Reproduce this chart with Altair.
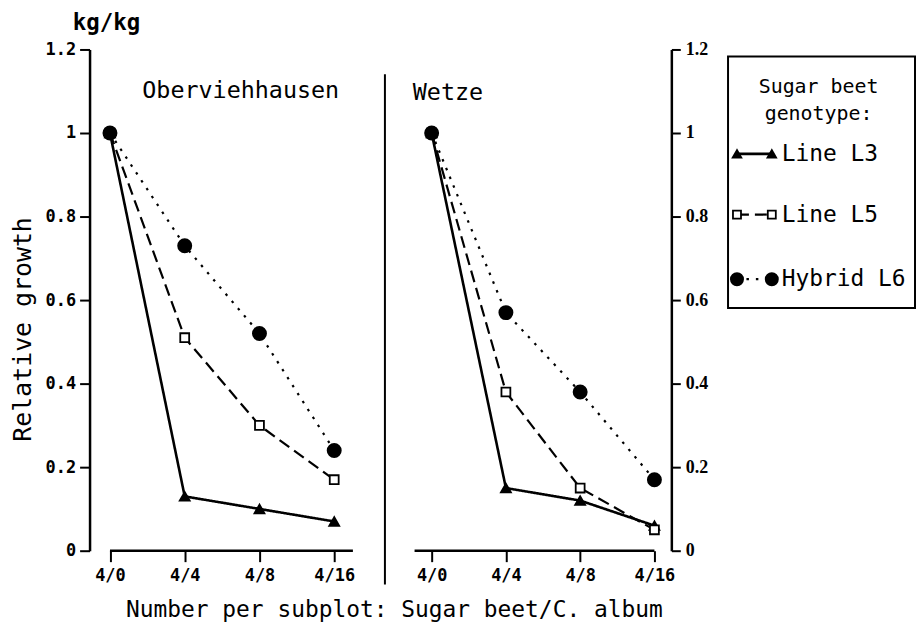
import json
import altair as alt
import pandas as pd

# ---------------- data ----------------
categories = ["4/0", "4/4", "4/8", "4/16"]
series_names = ["Line L3", "Line L5", "Hybrid L6"]
panel_names = ["Oberviehhausen", "Wetze"]

oberv_l3 = [1.00, 0.13, 0.10, 0.07]
oberv_l5 = [1.00, 0.51, 0.30, 0.17]
oberv_l6 = [1.00, 0.73, 0.52, 0.24]

wetze_l3 = [1.00, 0.15, 0.12, 0.06]
wetze_l5 = [1.00, 0.38, 0.15, 0.05]
wetze_l6 = [1.00, 0.57, 0.38, 0.17]

y_ticks = [0, 0.2, 0.4, 0.6, 0.8, 1.0, 1.2]
legend_title = ["Sugar beet", "genotype:"]
x_title = "Number per subplot: Sugar beet/C. album"
y_title = "Relative growth"
unit_label = "kg/kg"


def frame(values_by_series):
    rows = []
    for s, vals in zip(series_names, values_by_series):
        for i, (c, v) in enumerate(zip(categories, vals)):
            rows.append({"series": s, "pos": i, "cat": c, "value": v})
    return pd.DataFrame(rows)


df_left = frame([oberv_l3, oberv_l5, oberv_l6])
df_right = frame([wetze_l3, wetze_l5, wetze_l6])

# ---------------- styling ----------------
W, H = 585, 504
MONO = "DejaVu Sans Mono"
SERIF = "Liberation Serif"

dashes = [[1, 0], [12, 6], [2.5, 7]]
widths = [2.6, 2.2, 2.2]
shapes = ["triangle-up", "square", "circle"]
fills = ["black", "white", "black"]
sizes = [100, 80, 175]
legend_sizes = [75, 65, 150]

label_expr = json.dumps(categories) + "[datum.value]"
y_scale = alt.Scale(domain=[0, 1.2], nice=False, zero=False)

one = pd.DataFrame({"k": [0]})


def x_axis(title=None, title_x=None):
    kw = dict(
        orient="bottom", values=[0, 1, 2, 3], labelExpr=label_expr, domain=False,
        grid=False, tickSize=11, tickWidth=2, tickColor="black",
        labelFont=MONO, labelFontWeight="bold", labelFontSize=17, labelColor="black",
        labelPadding=6,
    )
    if title is not None:
        kw.update(title=title, titleFont=MONO, titleFontSize=23, titleFontWeight="normal",
                  titleColor="black", titlePadding=15, titleX=title_x, titleAlign="center")
    else:
        kw.update(title=None)
    return alt.Axis(**kw)


def y_axis(orient):
    kw = dict(
        orient=orient, values=y_ticks, format="~g", grid=False,
        domainWidth=2.5, domainColor="black", tickSize=10 if orient == "left" else 9,
        tickWidth=2, tickColor="black", labelColor="black",
    )
    if orient == "left":
        kw.update(labelFont=MONO, labelFontWeight="bold", labelFontSize=17, labelPadding=4,
                  title=y_title, titleFont=MONO, titleFontSize=25, titleFontWeight="normal",
                  titleColor="black", titlePadding=10, titleY=281)
    else:
        kw.update(labelFont=SERIF, labelFontWeight="bold", labelFontSize=18, labelPadding=5,
                  title=None)
    return alt.Axis(**kw)


def panel(df, x_domain, xax, yax, name, name_x, name_y, axis_from, axis_to, extras):
    xs = alt.Scale(domain=x_domain, nice=False, zero=False)
    X = alt.X("pos:Q", scale=xs, axis=xax)
    Y = alt.Y("value:Q", scale=y_scale, axis=yax)
    layers = []
    for s, d, w in zip(series_names, dashes, widths):
        layers.append(
            alt.Chart(df).transform_filter(alt.datum.series == s)
            .mark_line(color="black", strokeDash=d, strokeWidth=w)
            .encode(x=X, y=Y)
        )
    for s, sh, f, sz in zip(series_names, shapes, fills, sizes):
        layers.append(
            alt.Chart(df).transform_filter(alt.datum.series == s)
            .mark_point(shape=sh, fill=f, filled=True, stroke="black", strokeWidth=1.8,
                        size=sz, opacity=1)
            .encode(x=X, y=Y)
        )
    # x axis base line
    layers.append(
        alt.Chart(one).mark_rule(color="black", strokeWidth=2.5)
        .encode(x=alt.X(datum=axis_from, scale=xs, axis=xax),
                x2=alt.X2(datum=axis_to), y=alt.value(H))
    )
    layers.append(
        alt.Chart(pd.DataFrame({"t": [name]}))
        .mark_text(align="left", baseline="middle", font=MONO, fontSize=23.5, color="black")
        .encode(x=alt.value(name_x), y=alt.value(name_y), text="t:N")
    )
    layers.extend(extras)
    return alt.layer(*layers)


divider = alt.Chart(one).mark_rule(color="black", strokeWidth=2).encode(
    x=alt.value(297), y=alt.value(25), y2=alt.value(538)
)
kg = alt.Chart(pd.DataFrame({"t": [unit_label]})).mark_text(
    align="center", baseline="middle", font=MONO, fontSize=22.5, fontWeight="bold", color="black"
).encode(x=alt.value(17), y=alt.value(-27), text="t:N")

left = panel(df_left, [-0.273, 7.51], x_axis(x_title, 306), y_axis("left"),
             panel_names[0], 53, 42, 0, 3.25, [divider, kg])
right = panel(df_right, [-4.607, 3.228], x_axis(), y_axis("right"),
              panel_names[1], 325, 44, -0.23, 3, [])

# ---------------- legend (boxed) ----------------
leg_rows = [105, 166, 231]
leg = pd.DataFrame({
    "series": series_names,
    "y": leg_rows,
    "xa": [651] * 3,
    "xb": [686] * 3,
    "xt": [696] * 3,
})
legend_layers = [
    alt.Chart(one).mark_rect(fillOpacity=0, stroke="black", strokeWidth=2).encode(
        x=alt.value(642), x2=alt.value(830), y=alt.value(7), y2=alt.value(260)
    ),
    alt.Chart(pd.DataFrame({"t": legend_title, "y": [38, 65]})).mark_text(
        align="center", baseline="middle", font=MONO, fontSize=20, color="black"
    ).encode(x=alt.value(733), y=alt.Y("y:Q", scale=None), text="t:N"),
]
for s, d, w in zip(series_names, dashes, widths):
    legend_layers.append(
        alt.Chart(leg).transform_filter(alt.datum.series == s)
        .mark_rule(color="black", strokeDash=d, strokeWidth=w)
        .encode(x=alt.X("xa:Q", scale=None), x2="xb:Q", y=alt.Y("y:Q", scale=None))
    )
for col in ["xa", "xb"]:
    for s, sh, f, sz in zip(series_names, shapes, fills, legend_sizes):
        legend_layers.append(
            alt.Chart(leg).transform_filter(alt.datum.series == s)
            .mark_point(shape=sh, fill=f, filled=True, stroke="black", strokeWidth=1.8,
                        size=sz, opacity=1)
            .encode(x=alt.X(f"{col}:Q", scale=None), y=alt.Y("y:Q", scale=None))
        )
legend_layers.append(
    alt.Chart(leg).mark_text(align="left", baseline="middle", font=MONO, fontSize=23, color="black")
    .encode(x=alt.X("xt:Q", scale=None), y=alt.Y("y:Q", scale=None), text="series:N")
)
legend = alt.layer(*legend_layers)

chart = (
    alt.layer(left, right, legend)
    .resolve_scale(x="independent", y="independent")
    .properties(width=W, height=H, padding={"left": 2, "top": 2, "right": 0, "bottom": 0},
                background="white")
    .configure_view(stroke=None)
)

chart.save("out.html", embed_options={"renderer": "svg", "actions": False})
